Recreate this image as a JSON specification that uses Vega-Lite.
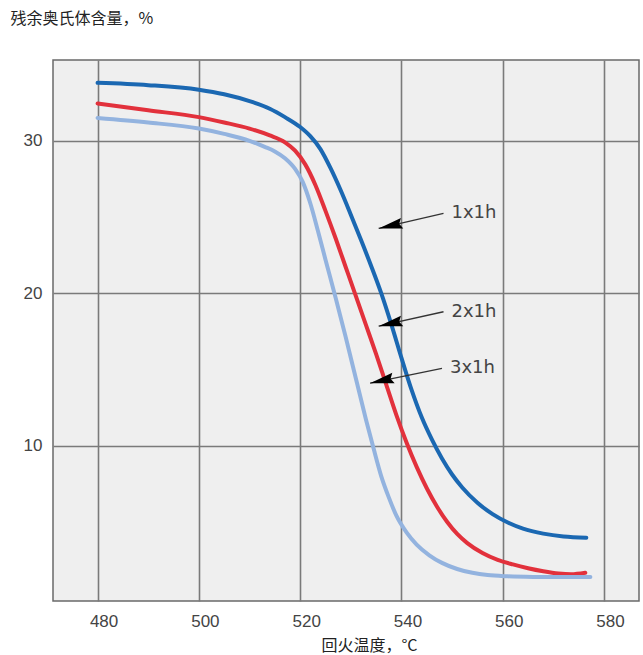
{
  "$schema": "https://vega.github.io/schema/vega-lite/v6.json",
  "width": 586,
  "height": 541,
  "autosize": {"type": "none"},
  "padding": {"left": 53, "top": 60, "right": 4, "bottom": 54},
  "background": "white",
  "config": {
    "view": {"stroke": "#6a6a6a", "strokeWidth": 1.5, "fill": "#efefef"},
    "axis": {"gridColor": "#7a7a7a", "gridWidth": 1.6, "gridOpacity": 1, "ticks": false, "domain": false}
  },
  "datasets": {
    "curves": [
      {"temp": 480, "value": 33.8, "series": "1x1h"},
      {"temp": 490, "value": 33.65, "series": "1x1h"},
      {"temp": 500, "value": 33.35, "series": "1x1h"},
      {"temp": 505, "value": 33.05, "series": "1x1h"},
      {"temp": 510, "value": 32.6, "series": "1x1h"},
      {"temp": 514, "value": 32.1, "series": "1x1h"},
      {"temp": 517, "value": 31.55, "series": "1x1h"},
      {"temp": 520, "value": 30.9, "series": "1x1h"},
      {"temp": 522, "value": 30.3, "series": "1x1h"},
      {"temp": 524, "value": 29.45, "series": "1x1h"},
      {"temp": 526, "value": 28.2, "series": "1x1h"},
      {"temp": 528, "value": 26.75, "series": "1x1h"},
      {"temp": 530, "value": 25.15, "series": "1x1h"},
      {"temp": 532, "value": 23.5, "series": "1x1h"},
      {"temp": 534, "value": 21.8, "series": "1x1h"},
      {"temp": 536, "value": 20.0, "series": "1x1h"},
      {"temp": 538, "value": 17.95, "series": "1x1h"},
      {"temp": 540, "value": 15.75, "series": "1x1h"},
      {"temp": 542, "value": 13.65, "series": "1x1h"},
      {"temp": 544, "value": 11.85, "series": "1x1h"},
      {"temp": 546, "value": 10.4, "series": "1x1h"},
      {"temp": 548, "value": 9.15, "series": "1x1h"},
      {"temp": 550, "value": 8.1, "series": "1x1h"},
      {"temp": 552, "value": 7.25, "series": "1x1h"},
      {"temp": 555, "value": 6.25, "series": "1x1h"},
      {"temp": 558, "value": 5.5, "series": "1x1h"},
      {"temp": 561, "value": 4.95, "series": "1x1h"},
      {"temp": 564, "value": 4.55, "series": "1x1h"},
      {"temp": 568, "value": 4.22, "series": "1x1h"},
      {"temp": 572, "value": 4.03, "series": "1x1h"},
      {"temp": 576.5, "value": 3.95, "series": "1x1h"},
      {"temp": 480, "value": 32.45, "series": "2x1h"},
      {"temp": 490, "value": 32.0, "series": "2x1h"},
      {"temp": 500, "value": 31.55, "series": "2x1h"},
      {"temp": 505, "value": 31.2, "series": "2x1h"},
      {"temp": 510, "value": 30.8, "series": "2x1h"},
      {"temp": 514, "value": 30.35, "series": "2x1h"},
      {"temp": 517, "value": 29.9, "series": "2x1h"},
      {"temp": 519, "value": 29.35, "series": "2x1h"},
      {"temp": 521, "value": 28.45, "series": "2x1h"},
      {"temp": 523, "value": 27.1, "series": "2x1h"},
      {"temp": 525, "value": 25.4, "series": "2x1h"},
      {"temp": 527, "value": 23.6, "series": "2x1h"},
      {"temp": 529, "value": 21.7, "series": "2x1h"},
      {"temp": 531, "value": 19.8, "series": "2x1h"},
      {"temp": 533, "value": 17.9, "series": "2x1h"},
      {"temp": 535, "value": 16.0, "series": "2x1h"},
      {"temp": 537, "value": 14.0, "series": "2x1h"},
      {"temp": 539, "value": 12.0, "series": "2x1h"},
      {"temp": 541, "value": 10.2, "series": "2x1h"},
      {"temp": 543, "value": 8.6, "series": "2x1h"},
      {"temp": 545, "value": 7.2, "series": "2x1h"},
      {"temp": 547, "value": 6.0, "series": "2x1h"},
      {"temp": 549, "value": 5.0, "series": "2x1h"},
      {"temp": 551, "value": 4.2, "series": "2x1h"},
      {"temp": 553, "value": 3.6, "series": "2x1h"},
      {"temp": 556, "value": 2.95, "series": "2x1h"},
      {"temp": 559, "value": 2.5, "series": "2x1h"},
      {"temp": 562, "value": 2.2, "series": "2x1h"},
      {"temp": 565, "value": 1.95, "series": "2x1h"},
      {"temp": 568, "value": 1.75, "series": "2x1h"},
      {"temp": 571, "value": 1.6, "series": "2x1h"},
      {"temp": 573.5, "value": 1.55, "series": "2x1h"},
      {"temp": 576.3, "value": 1.65, "series": "2x1h"},
      {"temp": 480, "value": 31.5, "series": "3x1h"},
      {"temp": 490, "value": 31.2, "series": "3x1h"},
      {"temp": 500, "value": 30.8, "series": "3x1h"},
      {"temp": 505, "value": 30.45, "series": "3x1h"},
      {"temp": 510, "value": 30.0, "series": "3x1h"},
      {"temp": 513, "value": 29.6, "series": "3x1h"},
      {"temp": 515, "value": 29.3, "series": "3x1h"},
      {"temp": 517, "value": 28.85, "series": "3x1h"},
      {"temp": 519, "value": 28.15, "series": "3x1h"},
      {"temp": 520.5, "value": 27.3, "series": "3x1h"},
      {"temp": 522, "value": 25.9, "series": "3x1h"},
      {"temp": 523.5, "value": 24.1, "series": "3x1h"},
      {"temp": 525, "value": 22.2, "series": "3x1h"},
      {"temp": 527, "value": 19.7, "series": "3x1h"},
      {"temp": 529, "value": 17.1, "series": "3x1h"},
      {"temp": 531, "value": 14.4, "series": "3x1h"},
      {"temp": 533, "value": 11.7, "series": "3x1h"},
      {"temp": 534.5, "value": 9.8, "series": "3x1h"},
      {"temp": 536, "value": 8.0, "series": "3x1h"},
      {"temp": 537.5, "value": 6.6, "series": "3x1h"},
      {"temp": 539, "value": 5.4, "series": "3x1h"},
      {"temp": 541, "value": 4.3, "series": "3x1h"},
      {"temp": 543, "value": 3.5, "series": "3x1h"},
      {"temp": 545.5, "value": 2.8, "series": "3x1h"},
      {"temp": 548, "value": 2.3, "series": "3x1h"},
      {"temp": 551, "value": 1.9, "series": "3x1h"},
      {"temp": 554, "value": 1.65, "series": "3x1h"},
      {"temp": 557, "value": 1.5, "series": "3x1h"},
      {"temp": 561, "value": 1.42, "series": "3x1h"},
      {"temp": 566, "value": 1.38, "series": "3x1h"},
      {"temp": 571, "value": 1.37, "series": "3x1h"},
      {"temp": 577.3, "value": 1.37, "series": "3x1h"}
    ],
    "arrows": [
      {"label": "1x1h", "temp": 548.3, "value": 25.24, "tipTemp": 535.5, "tipValue": 24.25},
      {"label": "2x1h", "temp": 548.3, "value": 18.78, "tipTemp": 535.5, "tipValue": 17.83},
      {"label": "3x1h", "temp": 548.0, "value": 15.07, "tipTemp": 533.8, "tipValue": 14.09}
    ]
  },
  "layer": [
    {
      "data": {"name": "curves"},
      "mark": {"type": "line", "interpolate": "monotone", "strokeWidth": 4, "strokeCap": "round"},
      "encoding": {
        "x": {
          "field": "temp", "type": "quantitative",
          "scale": {"domain": [471.2, 586.9], "nice": false, "zero": false},
          "axis": {
            "values": [480, 500, 520, 540, 560, 580],
            "grid": true,
            "labelFont": "Liberation Sans", "labelFontSize": 17, "labelColor": "#444",
            "labelPadding": 12, "labelOffset": 6,
            "title": "回火温度，°C",
            "titleFont": "Noto Sans CJK SC", "titleFontSize": 16, "titleFontWeight": "normal", "titleColor": "#222",
            "titleX": 316, "titleY": 44, "titleAlign": "center", "titleBaseline": "middle"
          }
        },
        "y": {
          "field": "value", "type": "quantitative",
          "scale": {"domain": [-0.2, 35.3], "nice": false, "zero": false},
          "axis": {
            "values": [10, 20, 30],
            "grid": true,
            "labelFont": "Liberation Sans", "labelFontSize": 17, "labelColor": "#444",
            "labelPadding": 11, "labelBaseline": "middle",
            "title": "残余奥氏体含量，%",
            "titleAngle": 0,
            "titleFont": "Noto Sans CJK SC", "titleFontSize": 16, "titleFontWeight": "normal", "titleColor": "#222",
            "titleX": -43, "titleY": -42, "titleAlign": "left", "titleBaseline": "middle"
          }
        },
        "color": {
          "field": "series", "type": "nominal",
          "scale": {"domain": ["1x1h", "2x1h", "3x1h"], "range": ["#1b68b2", "#e2313c", "#93b3df"]},
          "legend": null
        }
      }
    },
    {
      "data": {"name": "arrows"},
      "mark": {"type": "rule", "color": "#333", "strokeWidth": 1.3},
      "encoding": {
        "x": {"field": "temp", "type": "quantitative"},
        "y": {"field": "value", "type": "quantitative"},
        "x2": {"field": "tipTemp"},
        "y2": {"field": "tipValue"}
      }
    },
    {
      "data": {"name": "arrows"},
      "mark": {"type": "point", "shape": "M0,0L-0.45,2L0,1.75L0.45,2Z", "filled": true, "color": "#000", "opacity": 1, "size": 576, "angle": 257.5, "strokeWidth": 0},
      "encoding": {
        "x": {"field": "tipTemp", "type": "quantitative"},
        "y": {"field": "tipValue", "type": "quantitative"}
      }
    },
    {
      "data": {"name": "arrows"},
      "mark": {"type": "text", "align": "left", "baseline": "middle", "dx": 8, "font": "DejaVu Sans", "fontSize": 18, "color": "#444"},
      "encoding": {
        "x": {"field": "temp", "type": "quantitative"},
        "y": {"field": "value", "type": "quantitative"},
        "text": {"field": "label"}
      }
    }
  ]
}
